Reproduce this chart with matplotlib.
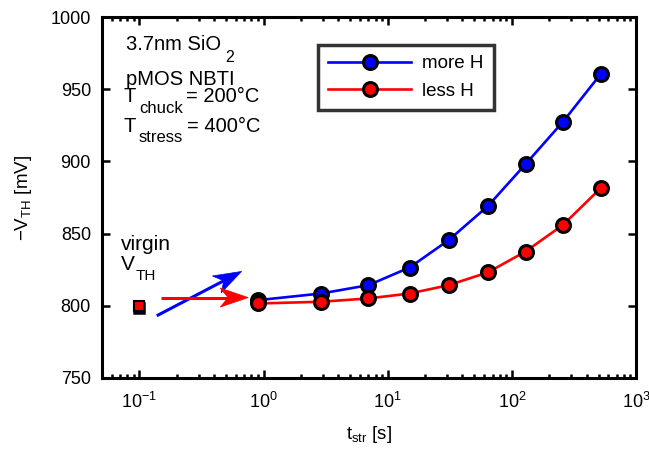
import matplotlib
matplotlib.use("Agg")
import matplotlib.pyplot as plt
from matplotlib.patches import Polygon
import numpy as np

plt.rcParams['font.family'] = ['Liberation Sans', 'DejaVu Sans']
plt.rcParams['mathtext.fontset'] = 'custom'
plt.rcParams['mathtext.rm'] = 'Liberation Sans'
plt.rcParams['mathtext.it'] = 'Liberation Sans'
plt.rcParams['mathtext.default'] = 'regular'

t_str = [0.9, 2.9, 7.0, 15.0, 31.0, 64.0, 129.0, 259.0, 520.0]
more_H = [803.9, 808.5, 814.3, 826.5, 845.5, 869.0, 898.1, 927.6, 960.5]
less_H = [801.6, 802.8, 805.1, 808.5, 814.3, 823.1, 837.6, 856.1, 881.5]
virgin_t = 0.1
virgin_more = 798.5
virgin_less = 800.0
arrow_more = [(0.138, 793.1), (0.666, 823.8)]
arrow_less = [(0.149, 805.7), (0.753, 805.7)]

W, H = 649, 450
fig = plt.figure(figsize=(W / 100, H / 100), dpi=100)
ax = fig.add_axes([102 / W, 1 - 378 / H, (636 - 102) / W, (378 - 17) / H])

ax.plot(t_str, more_H, '-o', color='blue', lw=1.9, ms=10, mfc='blue', mec='black', mew=2.2, label='more H')
ax.plot(t_str, less_H, '-o', color='red', lw=1.9, ms=10, mfc='red', mec='black', mew=2.2, label='less H')
ax.plot([virgin_t], [virgin_more], 's', ms=7.5, mfc='blue', mec='black', mew=1.8)
ax.plot([virgin_t], [virgin_less], 's', ms=6.5, mfc='red', mec='black', mew=1.5)

ax.set_xscale('log')
ax.set_xlim(0.05, 1000)
ax.set_ylim(750, 1000)
ax.set_yticks([750, 800, 850, 900, 950, 1000])
ax.set_xticks([0.1, 1, 10, 100, 1000])
ax.set_xticklabels([r'$10^{-1}$', r'$10^{0}$', r'$10^{1}$', r'$10^{2}$', r'$10^{3}$'])
ax.tick_params(which='both', direction='in', top=True, right=True, labelsize=13, width=1.8)
ax.tick_params(which='major', length=6)
ax.tick_params(which='minor', length=3)
ax.tick_params(axis='x', pad=10)
ax.tick_params(axis='y', pad=8)
for s in ax.spines.values():
    s.set_linewidth(2.2)

ax.set_xlabel(r'$t_{str}$ [s]', fontsize=13.5, labelpad=9)
ax.set_ylabel(r'$-V_{TH}$ [mV]', fontsize=13.5, labelpad=12)


def arrow(pts, color):
    (x0, y0), (x1, y1) = pts
    p0 = ax.transData.transform((x0, y0))
    p1 = ax.transData.transform((x1, y1))
    d = (p1 - p0) / np.linalg.norm(p1 - p0)
    n = np.array([-d[1], d[0]])
    L, Wd = 28.0, 9.5
    tip = p1
    back = tip - L * d
    notch = tip - 0.72 * L * d
    inv = ax.transData.inverted()
    ax.plot([x0, inv.transform(notch)[0]], [y0, inv.transform(notch)[1]], color=color, lw=2.2,
            solid_capstyle='butt')
    verts = [tip, back + Wd * n, notch, back - Wd * n]
    verts = [inv.transform(v) for v in verts]
    ax.add_patch(Polygon(verts, closed=True, facecolor=color, edgecolor=color, lw=0.5))


arrow(arrow_more, 'blue')
arrow(arrow_less, 'red')


def ptext(x, y, s, size=14.5):
    fig.text(x / W, 1 - y / H, s, fontsize=size, ha='left', va='baseline')


ptext(126, 50, '3.7nm SiO')
ptext(225, 61.5, '2', 11.5)
ptext(126, 85, 'pMOS NBTI')
ptext(124, 102, 'T')
ptext(139, 113, 'chuck', 12)
ptext(186, 102, '= 200°C')
ptext(124, 132, 'T')
ptext(139, 142.5, 'stress', 12)
ptext(187, 132, '= 400°C')
ptext(121, 250.5, 'virgin', 15)
ptext(121, 270, 'V', 15)
ptext(136, 280, 'TH', 11)

leg = ax.legend(loc='upper left', bbox_to_anchor=((318 - 102) / (636 - 102), 1 - (45 - 17) / (378 - 17)),
                fontsize=13.5, handlelength=4.4, handletextpad=0.6,
                frameon=True, fancybox=False, edgecolor='black', borderpad=0.55, labelspacing=0.55,
                borderaxespad=0)
leg.get_frame().set_linewidth(2.5)

plt.savefig('out.png', dpi=100)
